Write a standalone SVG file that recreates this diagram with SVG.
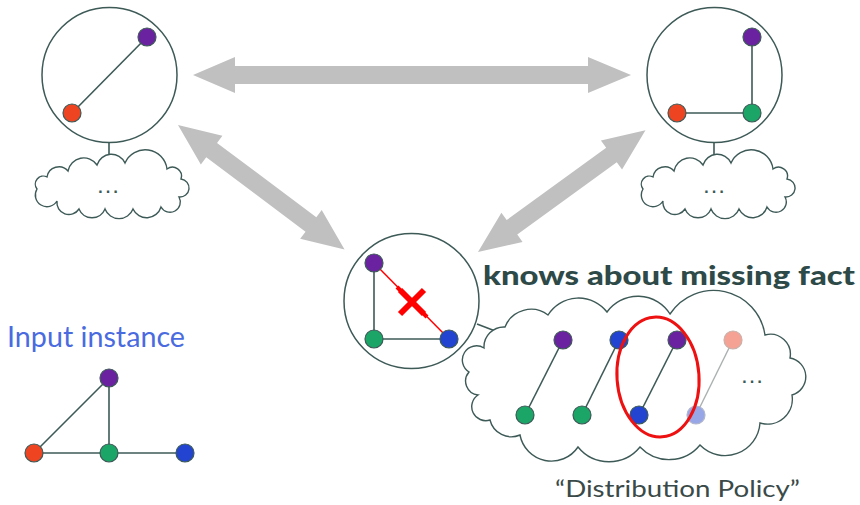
<svg xmlns="http://www.w3.org/2000/svg" width="860" height="505" viewBox="0 0 860 505">
<style>
.ln{stroke:#3d5a57;stroke-width:1.6;fill:none}
.ring{stroke:#3d5a57;stroke-width:1.5;fill:#fff}
.cl{stroke:#3d5a57;stroke-width:1.4;fill:#fff}
.nd{stroke:#3d5a57;stroke-width:1.2}
.pu{fill:#6a22a0}.rd{fill:#ee4422}.gr{fill:#1ba566}.bl{fill:#2244d0}
.pk{fill:#f5a294;stroke:#c9b0aa}.lb{fill:#97a6e6;stroke:#b0b6cc}
.arr{fill:#c0c0c0}
.dots{font-family:"Liberation Sans",sans-serif;font-size:24px;fill:#3d5a57}
</style>
<defs>
<path id="cloudS" d="M4 30 A8 8 0 0 1 14 18 A12 12 0 0 1 35 12 A16 16 0 0 1 64 6 A15 15 0 0 1 92 4 A22 22 0 0 1 134 10 A9 9 0 0 1 148 20 A8 8 0 0 1 146 38 A10 10 0 0 1 128 48 A15 15 0 0 1 100 50 A15 15 0 0 1 72 50 A14 14 0 0 1 46 50 A12 12 0 0 1 24 42 A8 8 0 0 1 4 30 Z"/>
</defs>
<g id="connectors">
<polygon class="arr" points="193,75 235,57 235,66 588,66 588,57 631,75 588,93 588,84 235,84 235,93"/>
<g transform="translate(178,125) rotate(36.8)">
<polygon class="arr" points="0,0 42,-18 42,-9 166,-9 166,-18 208,0 166,18 166,9 42,9 42,18"/>
</g>
<g transform="translate(478,252) rotate(-36)">
<polygon class="arr" points="0,0 42,-18 42,-9 165,-9 165,-18 207,0 165,18 165,9 42,9 42,18"/>
</g>
<line class="ln" x1="109" y1="143" x2="109" y2="163"/>
<line class="ln" x1="714" y1="143" x2="714" y2="163"/>
<line class="ln" x1="477" y1="324" x2="503" y2="334"/>
</g>
<g id="cloud-left">
<use href="#cloudS" class="cl" transform="translate(33,159)"/>
<text class="dots" x="108" y="193" text-anchor="middle">…</text>
</g>
<g id="cloud-right">
<use href="#cloudS" class="cl" transform="translate(639,159)"/>
<text class="dots" x="714" y="193" text-anchor="middle">…</text>
</g>
<g id="node-left">
<circle class="ring" cx="109.5" cy="75" r="67.5"/>
<line class="ln" x1="72" y1="113" x2="147" y2="37"/>
<circle class="nd pu" cx="147" cy="37" r="9"/>
<circle class="nd rd" cx="72" cy="113" r="9"/>
</g>
<g id="node-right">
<circle class="ring" cx="714.5" cy="75" r="67.5"/>
<line class="ln" x1="752" y1="37" x2="752" y2="113"/>
<line class="ln" x1="677" y1="113" x2="752" y2="113"/>
<circle class="nd pu" cx="752" cy="37" r="9"/>
<circle class="nd rd" cx="677" cy="113" r="9"/>
<circle class="nd gr" cx="752" cy="113" r="9"/>
</g>
<g id="node-middle">
<circle class="ring" cx="411.5" cy="301" r="67.5"/>
<line class="ln" x1="374" y1="263" x2="374" y2="339"/>
<line class="ln" x1="374" y1="339" x2="449" y2="339"/>
<line x1="374" y1="263" x2="449" y2="339" stroke="#ff0000" stroke-width="1.5"/>
<line x1="397" y1="287" x2="427" y2="317" stroke="#ff0000" stroke-width="4"/>
<line x1="400" y1="290" x2="424" y2="314" stroke="#ff0000" stroke-width="6"/>
<line x1="424" y1="290" x2="400" y2="314" stroke="#ff0000" stroke-width="6"/>
<circle class="nd pu" cx="374" cy="263" r="9"/>
<circle class="nd gr" cx="374" cy="339" r="9"/>
<circle class="nd bl" cx="449" cy="339" r="9"/>
</g>
<g id="distribution-cloud">
<path class="cl" d="M478 395 A14 14 0 0 1 469 372 A14 14 0 0 1 484 348 A20 20 0 0 1 505 327 A28 28 0 0 1 548 315 A36 36 0 0 1 607 312 A38 38 0 0 1 670 314 A52 52 0 0 1 765 335 A20 20 0 0 1 790 358 A19 19 0 0 1 792 395 A25 25 0 0 1 760 423 A35 35 0 0 1 700 445 A40 40 0 0 1 640 447 A40 40 0 0 1 578 447 A32 32 0 0 1 520 435 A22 22 0 0 1 490 420 A14 14 0 0 1 478 395 Z"/>
<line class="ln" x1="525" y1="415" x2="563" y2="340"/>
<line class="ln" x1="582" y1="415" x2="619" y2="340"/>
<line class="ln" x1="639" y1="415" x2="677" y2="340"/>
<line x1="696" y1="415" x2="733" y2="340" stroke="#aab0b0" stroke-width="1.4"/>
<circle class="nd pu" cx="563" cy="340" r="9"/>
<circle class="nd gr" cx="525" cy="415" r="9"/>
<circle class="nd bl" cx="619" cy="340" r="9"/>
<circle class="nd gr" cx="582" cy="415" r="9"/>
<circle class="nd pu" cx="677" cy="340" r="9"/>
<circle class="nd bl" cx="639" cy="415" r="9"/>
<circle class="pk" stroke-width="1.2" cx="733" cy="340" r="9"/>
<circle class="lb" stroke-width="1.2" cx="696" cy="415" r="9"/>
<text class="dots" x="752" y="383" text-anchor="middle">…</text>
<ellipse cx="658" cy="377" rx="41" ry="60" fill="none" stroke="#ee1111" stroke-width="3" transform="rotate(-4 658 377)"/>
</g>
<g id="input-instance">
<text x="7" y="347" font-family="Lato,'Open Sans',sans-serif" font-size="28" fill="#4a6be0" textLength="178" lengthAdjust="spacingAndGlyphs">Input instance</text>
<line class="ln" x1="34" y1="453" x2="109" y2="378"/>
<line class="ln" x1="109" y1="378" x2="109" y2="453"/>
<line class="ln" x1="34" y1="453" x2="185" y2="453"/>
<circle class="nd pu" cx="109" cy="378" r="9"/>
<circle class="nd rd" cx="34" cy="453" r="9"/>
<circle class="nd gr" cx="109" cy="453" r="9"/>
<circle class="nd bl" cx="185" cy="453" r="9"/>
</g>
<g id="labels">
<text x="483" y="285" font-family="Lato,'Open Sans',sans-serif" font-weight="900" font-size="26" fill="#2e4a48" textLength="372" lengthAdjust="spacingAndGlyphs">knows about missing fact</text>
<text x="555" y="497" font-family="Lato,'Open Sans',sans-serif" font-size="24" fill="#3a4a48" textLength="245" lengthAdjust="spacingAndGlyphs">“Distribution Policy”</text>
</g>
</svg>
